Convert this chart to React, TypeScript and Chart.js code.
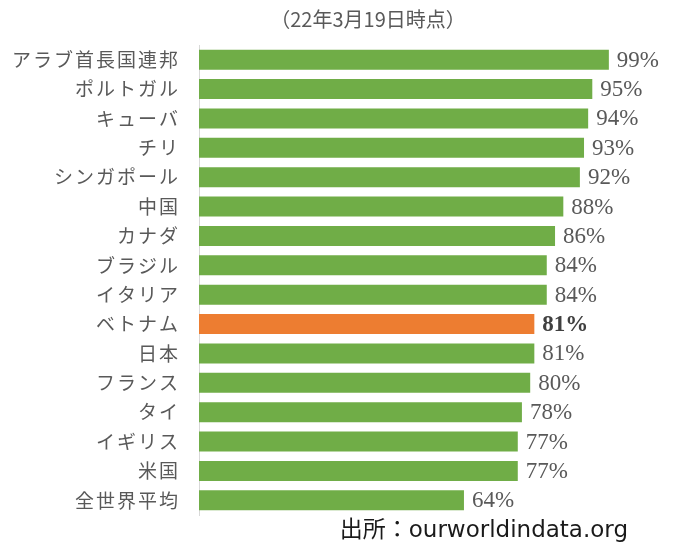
import React, { useEffect, useRef } from "react";
import { Chart, registerables } from "chart.js";

Chart.register(...registerables);

const categories = [
  "アラブ首長国連邦", "ポルトガル", "キューバ", "チリ", "シンガポール", "中国", "カナダ", "ブラジル",
  "イタリア", "ベトナム", "日本", "フランス", "タイ", "イギリス", "米国", "全世界平均",
];
const values = [99, 95, 94, 93, 92, 88, 86, 84, 84, 81, 81, 80, 78, 77, 77, 64];
const highlight = "ベトナム";
const titleText = "（22年3月19日時点）";
const sourceText = "出所：ourworldindata.org";

const GREEN = "#70AD47";
const ORANGE = "#ED7D31";

const labelPlugin = {
  id: "labels",
  beforeDraw(chart: any) {
    (chart.ctx as any).letterSpacing = "2px";
  },
  afterDatasetsDraw(chart: any) {
    const ctx = chart.ctx;
    (ctx as any).letterSpacing = "0px";
    const meta = chart.getDatasetMeta(0);
    ctx.save();
    ctx.textBaseline = "middle";
    ctx.textAlign = "left";
    meta.data.forEach((bar: any, i: number) => {
      const hl = categories[i] === highlight;
      ctx.font = (hl ? "bold " : "") + "23px 'Liberation Serif', serif";
      ctx.fillStyle = hl ? "#404040" : "#595959";
      ctx.fillText(values[i] + "%", bar.x + 8, bar.y + 1);
    });
    ctx.restore();
  },
  afterDraw(chart: any) {
    const ctx = chart.ctx;
    ctx.save();
    (ctx as any).letterSpacing = "0px";
    ctx.textBaseline = "middle";
    ctx.textAlign = "center";
    ctx.fillStyle = "#595959";
    ctx.font = "20px 'Noto Sans CJK JP', sans-serif";
    ctx.fillText(titleText, 368, 19);
    ctx.textAlign = "right";
    ctx.fillStyle = "#1a1a1a";
    ctx.font = "23px 'DejaVu Sans', 'Noto Sans CJK JP', sans-serif";
    ctx.fillText(sourceText, 628, 531);
    ctx.restore();
  },
};

export default function App() {
  const ref = useRef<HTMLCanvasElement>(null);
  useEffect(() => {
    document.body.style.margin = "0";
    const chart = new Chart(ref.current!, {
      type: "bar",
      data: {
        labels: categories,
        datasets: [
          {
            data: values,
            backgroundColor: categories.map((c) => (c === highlight ? ORANGE : GREEN)),
            barPercentage: 0.68,
            categoryPercentage: 1,
          },
        ],
      },
      options: {
        indexAxis: "y",
        animation: false,
        responsive: false,
        maintainAspectRatio: false,
        layout: { padding: { top: 45, bottom: 31, right: 65, left: 0 } },
        plugins: { legend: { display: false }, tooltip: { enabled: false }, title: { display: false } },
        scales: {
          x: { display: false, min: 0, max: 100 },
          y: {
            grid: { display: false, drawTicks: false },
            border: { display: true, color: "#d9d9d9", width: 1 },
            ticks: {
              color: "#595959",
              padding: 19,
              font: { size: 19, family: "'Noto Sans CJK JP', sans-serif" },
            },
            afterFit(scale: any) {
              scale.width = 199;
            },
          },
        },
      },
      plugins: [labelPlugin],
    });
    return () => chart.destroy();
  }, []);
  return (
    <div style={{ width: 678, height: 546 }}>
      <canvas ref={ref} width={678} height={546} />
    </div>
  );
}
